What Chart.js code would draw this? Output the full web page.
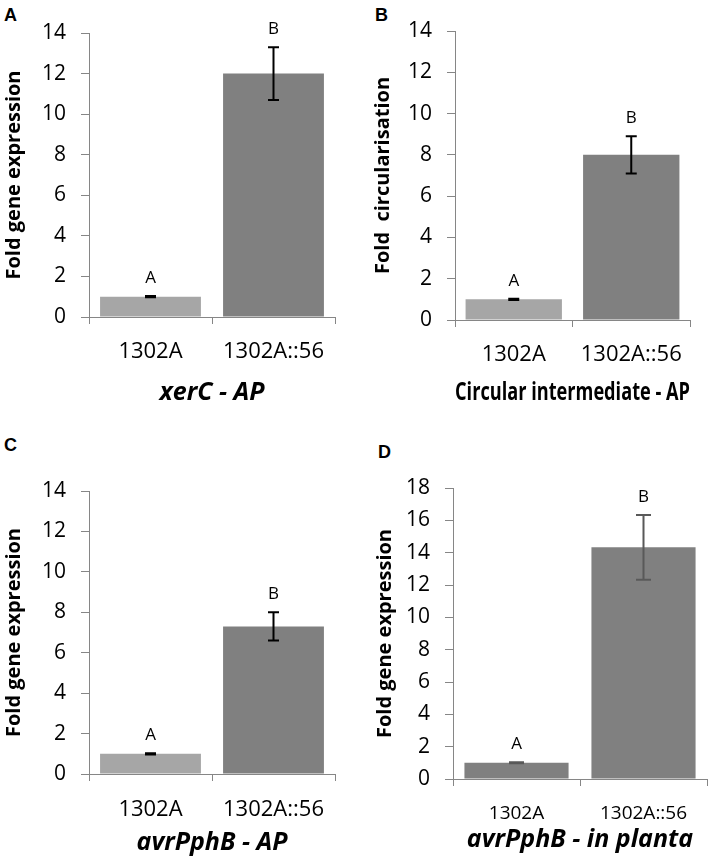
<!DOCTYPE html>
<html>
<head>
<meta charset="utf-8">
<script src="https://cdn.jsdelivr.net/npm/chart.js@4.4.0/dist/chart.umd.min.js"></script>
<style>
  body { margin: 0; background: #fff; width: 709px; height: 865px; position: relative; overflow: hidden; }
  .panel { position: absolute; }
  .tag { position: absolute; font: bold 18px/18px "Liberation Sans", Arial, sans-serif; color: #000; }
</style>
</head>
<body>
<div class="tag" style="left:4px;top:6px">A</div>
<div class="tag" style="left:375px;top:6px">B</div>
<div class="tag" style="left:4px;top:436px">C</div>
<div class="tag" style="left:378px;top:443px">D</div>

<canvas id="chartA" class="panel" width="352" height="408" style="left:0;top:0"></canvas>
<canvas id="chartB" class="panel" width="354" height="408" style="left:355px;top:0"></canvas>
<canvas id="chartC" class="panel" width="352" height="428" style="left:0;top:430px"></canvas>
<canvas id="chartD" class="panel" width="354" height="425" style="left:355px;top:430px"></canvas>

<script>
const categories = ['1302A', '1302A::56']
const letters = ['A', 'B']

const xerCValues = [1, 12]
const xerCErrors = [0.03, 1.3]

const circValues = [1, 8]
const circErrors = [0.03, 0.9]

const avrApValues = [1, 7.3]
const avrApErrors = [0.03, 0.7]

const avrPlantaValues = [1, 14.33]
const avrPlantaErrors = [0.03, 2.0]

const FONT = '"Open Sans", sans-serif'
const AXIS_GREY = '#868686'

// error bars + significance letters
const errorBarPlugin = {
    id: 'errorBars',
    afterDatasetsDraw(chart, args, opts) {
        const ctx = chart.ctx
        const x = chart.scales.x
        const y = chart.scales.y
        const vals = chart.data.datasets[0].data
        ctx.save()
        vals.forEach((v, i) => {
            const err = opts.errors[i]
            const px = x.getPixelForValue(i)
            const top = y.getPixelForValue(v + err)
            const bot = y.getPixelForValue(v - err)
            const cap = opts.capWidth / 2
            ctx.strokeStyle = opts.color
            ctx.lineWidth = opts.lineWidth
            ctx.beginPath()
            ctx.moveTo(px, top); ctx.lineTo(px, bot)
            ctx.moveTo(px - cap, top); ctx.lineTo(px + cap, top)
            ctx.moveTo(px - cap, bot); ctx.lineTo(px + cap, bot)
            ctx.stroke()
            ctx.fillStyle = '#000'
            ctx.font = '17px ' + FONT
            ctx.textAlign = 'center'
            ctx.textBaseline = 'middle'
            ctx.fillText(letters[i], px, top - 18)
        })
        ctx.restore()
    }
}

function makePanel(id, o) {
    let ctx = document.getElementById(id).getContext('2d')
    return new Chart(ctx, {
        type: 'bar',
        data: {
            labels: categories,
            datasets: [{
                data: o.values,
                backgroundColor: o.colors,
                borderWidth: 0,
                categoryPercentage: 1,
                barPercentage: 0.82
            }]
        },
        plugins: [errorBarPlugin],
        options: {
            responsive: false,
            animation: false,
            events: [],
            layout: { padding: o.padding },
            plugins: {
                legend: { display: false },
                tooltip: { enabled: false },
                errorBars: { errors: o.errors, color: o.errColor, lineWidth: o.errWidth, capWidth: o.capWidth }
            },
            scales: {
                x: {
                    afterFit: (s) => { s.height = o.xHeight },
                    grid: { drawOnChartArea: false, drawTicks: true, tickLength: 7, color: AXIS_GREY, lineWidth: 1 },
                    border: { color: AXIS_GREY, width: 1 },
                    ticks: { color: '#000', font: { family: FONT, size: o.catSize }, padding: o.catPad, maxRotation: 0 },
                    title: {
                        display: true,
                        text: o.title,
                        color: '#000',
                        font: { family: FONT, size: 25, weight: 'bold', style: o.titleStyle },
                        padding: { top: 0, bottom: 0 }
                    }
                },
                y: {
                    min: 0,
                    max: o.max,
                    afterFit: (s) => { s.width = o.yWidth },
                    grid: { drawOnChartArea: false, drawTicks: true, tickLength: 8, color: AXIS_GREY, lineWidth: 1 },
                    border: { color: AXIS_GREY, width: 1 },
                    ticks: { stepSize: 2, color: '#000', font: { family: FONT, size: 21 }, padding: 15 },
                    title: {
                        display: true,
                        text: o.yTitle,
                        color: '#000',
                        font: { family: FONT, size: 20, weight: 'bold' },
                        padding: { top: 2, bottom: 0 }
                    }
                }
            }
        }
    })
}

makePanel('chartA', {
    values: xerCValues, errors: xerCErrors, colors: ['#a6a6a6', '#808080'],
    errColor: '#000', errWidth: 2, capWidth: 11,
    padding: { left: 0, top: 33, right: 17, bottom: 0 },
    yWidth: 89, xHeight: 91, max: 14, catSize: 22, catPad: 15,
    title: 'xerC - AP', titleStyle: 'italic', yTitle: 'Fold gene expression'
})

makePanel('chartB', {
    values: circValues, errors: circErrors, colors: ['#a6a6a6', '#808080'],
    errColor: '#000', errWidth: 2, capWidth: 11,
    padding: { left: 14, top: 31, right: 19, bottom: 0 },
    yWidth: 86, xHeight: 88, max: 14, catSize: 22, catPad: 15,
    title: 'Circular intermediate - AP', titleStyle: 'normal', yTitle: 'Fold  circularisation'
})

makePanel('chartC', {
    values: avrApValues, errors: avrApErrors, colors: ['#a6a6a6', '#808080'],
    errColor: '#000', errWidth: 2, capWidth: 11,
    padding: { left: 0, top: 61, right: 17, bottom: 0 },
    yWidth: 89, xHeight: 84, max: 14, catSize: 22, catPad: 16,
    title: 'avrPphB - AP', titleStyle: 'italic', yTitle: 'Fold gene expression'
})

makePanel('chartD', {
    values: avrPlantaValues, errors: avrPlantaErrors, colors: ['#808080', '#808080'],
    errColor: '#595959', errWidth: 2, capWidth: 15,
    padding: { left: 16, top: 58, right: 2, bottom: 0 },
    yWidth: 82, xHeight: 76, max: 18, catSize: 19, catPad: 16,
    title: 'avrPphB - in planta', titleStyle: 'italic', yTitle: 'Fold gene expression'
})
</script>
</body>
</html>
